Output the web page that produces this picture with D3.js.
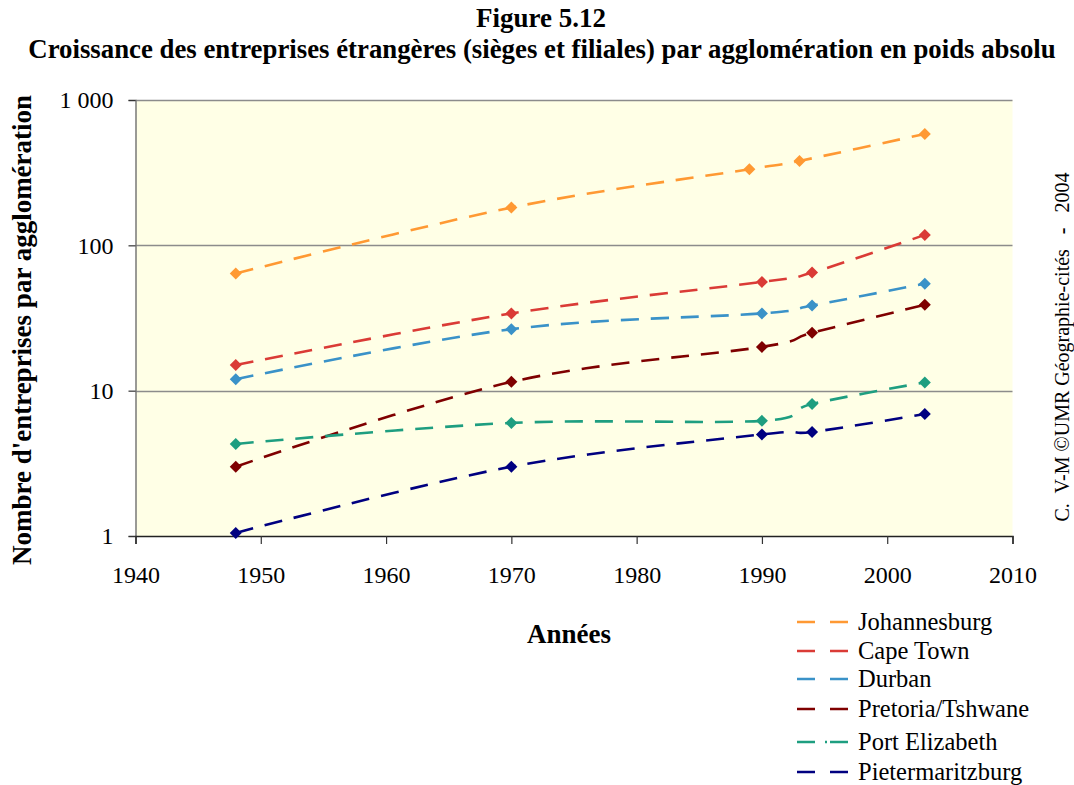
<!DOCTYPE html>
<html>
<head>
<meta charset="utf-8">
<script src="https://cdn.jsdelivr.net/npm/d3@7"></script>
<style>
  html, body { margin: 0; padding: 0; background: #fff; }
  svg { display: block; }
  text { font-family: "Liberation Serif", "Times New Roman", serif; fill: #000; }
</style>
</head>
<body>
<svg id="chart" width="1074" height="785"></svg>
<script>
// Number of foreign firms (HQ and subsidiaries) per metropolitan area
const seriesNames = ["Johannesburg", "Cape Town", "Durban", "Pretoria/Tshwane", "Port Elizabeth", "Pietermaritzburg"];
const seriesColors = ["#FF9933", "#DA3B36", "#3A92C8", "#7F0000", "#1E9E80", "#000080"];

const johannesburgYears = [1948, 1970, 1989, 1993, 2003];
const johannesburgValues = [64, 182, 334, 381, 584];

const capeTownYears = [1948, 1970, 1990, 1994, 2003];
const capeTownValues = [15, 34, 56, 65, 118];

const durbanYears = [1948, 1970, 1990, 1994, 2003];
const durbanValues = [12, 26.5, 34, 38.5, 54.5];

const pretoriaYears = [1948, 1970, 1990, 1994, 2003];
const pretoriaValues = [3, 11.5, 20, 25, 39];

const portElizabethYears = [1948, 1970, 1990, 1994, 2003];
const portElizabethValues = [4.3, 6, 6.2, 8.1, 11.4];

const pietermaritzburgYears = [1948, 1970, 1990, 1994, 2003];
const pietermaritzburgValues = [1.05, 3, 5, 5.2, 6.9];

const xTicks = [1940, 1950, 1960, 1970, 1980, 1990, 2000, 2010];
const yTicks = [1, 10, 100, 1000];
const yTickLabels = ["1", "10", "100", "1 000"];

const seriesYears = [johannesburgYears, capeTownYears, durbanYears, pretoriaYears, portElizabethYears, pietermaritzburgYears];
const seriesValues = [johannesburgValues, capeTownValues, durbanValues, pretoriaValues, portElizabethValues, pietermaritzburgValues];

const series = seriesNames.map((name, i) => ({
  name,
  color: seriesColors[i],
  points: seriesYears[i].map((yr, j) => ({ year: yr, value: seriesValues[i][j] }))
}));

const serif = "'Liberation Serif', 'Times New Roman', serif";
const svg = d3.select("#chart");
const plot = { left: 135.5, right: 1012.5, top: 100, bottom: 536 };

const x = d3.scaleLinear().domain([1940, 2010]).range([plot.left, plot.right]);
const y = d3.scaleLog().domain([1, 1000]).range([plot.bottom, plot.top]);

// Titles
svg.append("text").attr("x", 541).attr("y", 27).attr("text-anchor", "middle")
  .style("font-weight", "bold").style("font-size", "27px").text("Figure 5.12");
svg.append("text").attr("x", 542).attr("y", 58).attr("text-anchor", "middle")
  .style("font-weight", "bold").style("font-size", "26.8px")
  .text("Croissance des entreprises étrangères (sièges et filiales) par agglomération en poids absolu");

// Plot background
svg.append("rect")
  .attr("x", plot.left).attr("y", plot.top)
  .attr("width", plot.right - plot.left).attr("height", plot.bottom - plot.top)
  .attr("fill", "#FFFFE6");

// Horizontal gridlines at each decade
svg.append("g").selectAll("line").data(yTicks.filter(v => v > 1)).join("line")
  .attr("x1", plot.left).attr("x2", plot.right)
  .attr("y1", d => Math.round(y(d)) + 0.5).attr("y2", d => Math.round(y(d)) + 0.5)
  .attr("stroke", "#8c8c8c").attr("stroke-width", 1.3);

// Y axis
const yAxis = d3.axisLeft(y).tickValues(yTicks)
  .tickFormat((d, i) => yTickLabels[i]).tickSize(7).tickPadding(15);
const gy = svg.append("g").attr("transform", `translate(${plot.left},0)`).call(yAxis)
  .attr("font-family", serif).attr("font-size", 24);
gy.select(".domain").attr("stroke", "#7a7a7a").attr("stroke-width", 1.5);
gy.selectAll(".tick line").attr("stroke", "#333").attr("stroke-width", 1.2);
gy.selectAll(".tick text").attr("fill", "#000");

// X axis
const xAxis = d3.axisBottom(x).tickValues(xTicks).tickFormat(d3.format("d")).tickSize(8).tickPadding(22);
const gx = svg.append("g").attr("transform", `translate(0,${plot.bottom})`).call(xAxis)
  .attr("font-family", serif).attr("font-size", 24);
gx.select(".domain").attr("stroke", "#222").attr("stroke-width", 1.5);
gx.selectAll(".tick line").attr("stroke", "#333").attr("stroke-width", 1.2);
gx.selectAll(".tick text").attr("fill", "#000").attr("dy", "0.7em");

// Axis titles
svg.append("text").attr("x", 569).attr("y", 643).attr("text-anchor", "middle")
  .style("font-weight", "bold").style("font-size", "27px").text("Années");
svg.append("text").attr("transform", "translate(31,330) rotate(-90)").attr("text-anchor", "middle")
  .style("font-weight", "bold").style("font-size", "27px").text("Nombre d'entreprises par agglomération");

// Credit line (rotated, right margin)
const credit = svg.append("text").attr("transform", "translate(1069,347) rotate(-90)")
  .attr("text-anchor", "middle").style("font-size", "20px").style("white-space", "pre");
credit.append("tspan").text("C.  V-M ©UMR Géographie-cités   ");
credit.append("tspan").style("font-weight", "bold").text("-");
credit.append("tspan").text("   2004");

// Series lines (smoothed)
const line = d3.line().x(d => x(d.year)).y(d => y(d.value)).curve(d3.curveCardinal.tension(0));
const diamond = "M0,-6L6,0L0,6L-6,0Z";

const gs = svg.append("g").selectAll("g").data(series).join("g");
gs.append("path")
  .attr("d", d => line(d.points))
  .attr("fill", "none").attr("stroke", d => d.color)
  .attr("stroke-width", 2.6).attr("stroke-dasharray", "18,12");
gs.selectAll("path.marker").data(d => d.points.map(p => ({ ...p, color: d.color }))).join("path")
  .attr("class", "marker")
  .attr("d", diamond)
  .attr("transform", d => `translate(${x(d.year)},${y(d.value)})`)
  .attr("fill", d => d.color);

// Legend
const legendRows = [622, 651, 679, 709, 742, 772];
const lg = svg.append("g").selectAll("g").data(series).join("g")
  .attr("transform", (d, i) => `translate(797,${legendRows[i]})`);
lg.append("line").attr("x1", 0).attr("x2", 51).attr("y1", 0).attr("y2", 0)
  .attr("stroke", d => d.color).attr("stroke-width", 2.6)
  .attr("stroke-dasharray", d => d.name === "Port Elizabeth" ? "18,10,2,3,18" : "18,15,18");
lg.append("text").attr("x", 61).attr("y", 8).style("font-size", "24.5px").text(d => d.name);
</script>
</body>
</html>
